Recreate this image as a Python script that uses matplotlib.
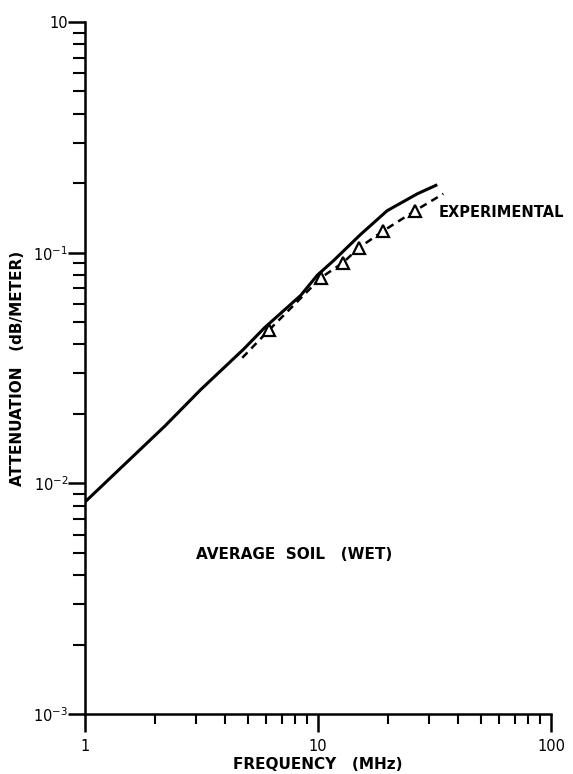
import matplotlib
matplotlib.use('Agg')
import matplotlib.pyplot as plt
from matplotlib.ticker import FixedLocator, LogLocator, NullFormatter

# theory curve (solid)
freq_theory = [1.0, 2.2, 3.14, 4.8, 5.9, 8.42, 9.95, 11.65, 15.2, 19.8, 26.7, 32.5]
atten_theory = [0.0083, 0.0177, 0.0255, 0.0382, 0.0473, 0.0652, 0.0800, 0.0923,
                0.1197, 0.152, 0.180, 0.197]

# experimental (dashed line + triangles)
freq_exp_line = [4.73, 6.14, 10.3, 12.8, 15.0, 19.0, 26.1, 34.5]
atten_exp_line = [0.035, 0.046, 0.0779, 0.0905, 0.105, 0.124, 0.152, 0.18]
freq_exp_pts = [6.14, 10.3, 12.8, 15.0, 19.0, 26.1]
atten_exp_pts = [0.046, 0.0779, 0.0905, 0.105, 0.124, 0.152]

x_ticks = [1, 10, 100]
x_ticklabels = ['1', '10', '100']
y_ticks = [1e-3, 1e-2, 1e-1, 1.0]
y_ticklabels = [r'$\mathregular{10^{-3}}$', r'$\mathregular{10^{-2}}$',
                r'$\mathregular{10^{-1}}$', '10']

plt.rcParams['font.family'] = ['DejaVu Sans']
plt.rcParams['mathtext.fontset'] = 'dejavusans'

fig = plt.figure(figsize=(5.73, 7.74), dpi=100)
ax = fig.add_axes([85 / 573, 1 - 714 / 774, (551 - 85) / 573, (714 - 22) / 774])

ax.plot(freq_theory, atten_theory, color='black', lw=2.2, solid_capstyle='butt')
ax.plot(freq_exp_line, atten_exp_line, color='black', lw=1.8, ls=(0, (3, 2.2)))
ax.plot(freq_exp_pts, atten_exp_pts, ls='none', marker='^', ms=8.5,
        mfc='white', mec='black', mew=1.6, zorder=3)

ax.set_xscale('log')
ax.set_yscale('log')
ax.set_xlim(1, 100)
ax.set_ylim(1e-3, 1)

for side in ['top', 'right']:
    ax.spines[side].set_visible(False)
for side in ['left', 'bottom']:
    ax.spines[side].set_linewidth(1.8)

ax.xaxis.set_major_locator(FixedLocator(x_ticks))
ax.set_xticklabels(x_ticklabels)
ax.xaxis.set_minor_locator(LogLocator(base=10, subs=range(2, 10)))
ax.xaxis.set_minor_formatter(NullFormatter())
ax.yaxis.set_major_locator(FixedLocator(y_ticks))
ax.set_yticklabels(y_ticklabels)
ax.yaxis.set_minor_locator(LogLocator(base=10, subs=range(2, 10)))
ax.yaxis.set_minor_formatter(NullFormatter())

ax.tick_params(axis='x', which='major', direction='out', length=13, width=1.8,
               labelsize=10.5, pad=5)
ax.tick_params(axis='x', which='minor', direction='out', length=7, width=1.5)
ax.tick_params(axis='y', which='major', direction='out', length=12, width=1.8,
               labelsize=10.5, pad=0)
ax.tick_params(axis='y', which='minor', direction='out', length=9, width=1.5)

ax.set_xlabel('FREQUENCY   (MHz)', fontsize=11, fontweight='bold', labelpad=2)
ax.set_ylabel('ATTENUATION   (dB/METER)', fontsize=11, fontweight='bold',
              labelpad=6)

ax.text(33.0, 0.149, 'EXPERIMENTAL', fontsize=10.5, fontweight='bold',
        ha='left', va='center')
ax.text(3.0, 0.0049, 'AVERAGE  SOIL   (WET)', fontsize=11, fontweight='bold',
        ha='left', va='center')

fig.savefig('out.png', dpi=100)
